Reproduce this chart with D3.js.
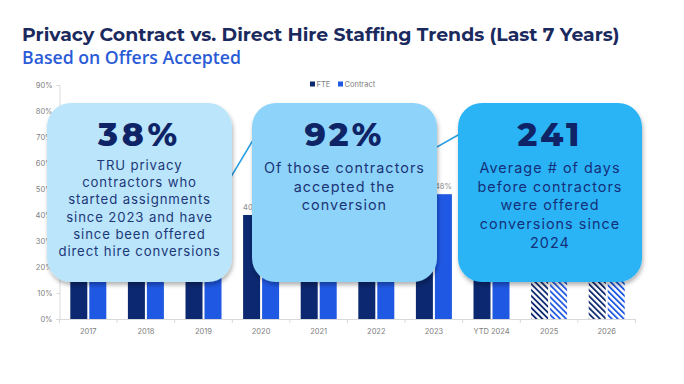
<!DOCTYPE html>
<html><head><meta charset="utf-8">
<script src="https://cdn.jsdelivr.net/npm/d3@7"></script>
<style>html,body{margin:0;padding:0;background:#fff}svg{display:block}</style>
</head><body>
<svg id="chart" width="684" height="384"></svg>
<script>
// ---------- DATA ----------
const categories = ["2017","2018","2019","2020","2021","2022","2023","YTD 2024","2025","2026"];
const seriesNames = ["FTE","Contract"];
const fteValues = [70,65,55,40,45,50,52,35,30,25];
const contractValues = [30,35,45,60,55,50,48,65,70,75];
const projectedCategories = ["2025","2026"];
const trendValues = [50,45,37,74,70,67,65.5,78,75,72];
const yTickValues = [0,10,20,30,40,50,60,70,80,90];
const titleText = "Privacy Contract vs. Direct Hire Staffing Trends (Last 7 Years)";
const subtitleText = "Based on Offers Accepted";
const calloutNumbers = ["38%","92%","241"];
const calloutLines = [
  ["TRU privacy","contractors who","started assignments","since 2023 and have","since been offered","direct hire conversions"],
  ["Of those contractors","accepted the","conversion"],
  ["Average # of days","before contractors","were offered","conversions since","2024"]
];

// ---------- LAYOUT / STYLE ----------
const svg = d3.select("#chart");
const FONT = "Inter, 'Open Sans', sans-serif";
const colors = {FTE:"#0c2870", Contract:"#1f58e3"};
const plot = {left:59.5, right:635.5, top:85, bottom:319};

const defs = svg.append("defs");
const f = defs.append("filter").attr("id","shadow").attr("x","-10%").attr("y","-10%").attr("width","125%").attr("height","130%");
f.append("feDropShadow").attr("dx",1).attr("dy",3).attr("stdDeviation",2).attr("flood-color","#000").attr("flood-opacity",0.3);
seriesNames.forEach(s=>{
  const p = defs.append("pattern").attr("id","hatch-"+s).attr("patternUnits","userSpaceOnUse")
    .attr("width",4.2).attr("height",4.2).attr("patternTransform","rotate(-45)");
  p.append("rect").attr("width",4.2).attr("height",4.2).attr("fill","#fff");
  p.append("rect").attr("width",1.8).attr("height",4.2).attr("fill",colors[s]);
});

function fit(sel, target){
  const w = sel.node().getComputedTextLength();
  const fs = parseFloat(sel.attr("font-size"));
  sel.attr("font-size", (fs*target/w).toFixed(2));
}
function spread(sel, target){
  const node = sel.node();
  const w = node.getComputedTextLength();
  const n = sel.text().length;
  if (w > target) { fit(sel, target); return 0; }
  const ls = (target - w) / n;
  sel.attr("letter-spacing", ls.toFixed(3));
  return ls;
}

// Title
const t = svg.append("text").attr("x",22).attr("y",40.5).attr("font-family","Montserrat, "+FONT)
  .attr("font-weight",700).attr("font-size",19).attr("fill","#1b2a5e").text(titleText);
spread(t, 598);
const st = svg.append("text").attr("x",22).attr("y",63.5).attr("font-family","'Open Sans', sans-serif")
  .attr("font-weight",600).attr("font-size",16).attr("fill","#2a5bd7").text(subtitleText);
fit(st, 219);

// Scales
const x = d3.scaleBand().domain(categories).range([plot.left, plot.right]);
const groupW = 36;
const x1 = d3.scaleBand().domain(seriesNames).range([0, groupW]).paddingInner(0.105);
const y = d3.scaleLinear().domain([0,90]).range([plot.bottom, plot.top]);

// Axes
const yAxis = svg.append("g").attr("transform",`translate(${plot.left},0)`)
  .call(d3.axisLeft(y).tickValues(yTickValues).tickSize(3).tickPadding(4).tickFormat(d=>d+"%"));
yAxis.select(".domain").attr("stroke","#d9d9d9");
yAxis.selectAll(".tick line").attr("stroke","#d9d9d9");
yAxis.selectAll("text").attr("font-family",FONT).attr("font-size",7.5).attr("fill","#808080");

const xAxis = svg.append("g").attr("transform",`translate(0,${plot.bottom})`)
  .call(d3.axisBottom(x).tickSize(0).tickPadding(10));
xAxis.select(".domain").attr("stroke","#d9d9d9");
xAxis.selectAll("text").attr("font-family",FONT).attr("font-size",7.5).attr("fill","#808080");
const boundaries = categories.map(c=>x(c)).concat([x(categories[categories.length-1])+x.bandwidth()]);
svg.append("g").selectAll("line").data(boundaries).join("line")
  .attr("x1",d=>d).attr("x2",d=>d).attr("y1",plot.bottom).attr("y2",plot.bottom+4).attr("stroke","#d9d9d9");

// Legend
const legend = svg.append("g");
const legendItems = [{s:"FTE",x:310},{s:"Contract",x:338}];
legendItems.forEach(li=>{
  legend.append("rect").attr("x",li.x).attr("y",81.5).attr("width",5).attr("height",5).attr("fill",colors[li.s]);
  legend.append("text").attr("x",li.x+6.5).attr("y",87).attr("font-family",FONT).attr("font-size",7.5)
    .attr("fill","#808080").text(li.s);
});

// Bars
const rows = categories.map((c,i)=>({c, vals:[{s:"FTE",v:fteValues[i]},{s:"Contract",v:contractValues[i]}]}));
const groups = svg.append("g").selectAll("g").data(rows).join("g")
  .attr("transform",d=>`translate(${x(d.c)+(x.bandwidth()-groupW)/2},0)`);
groups.selectAll("rect").data(d=>d.vals.map(v=>({...v,c:d.c}))).join("rect")
  .attr("x",d=>x1(d.s)).attr("width",x1.bandwidth())
  .attr("y",d=>y(d.v)).attr("height",d=>y(0)-y(d.v))
  .attr("fill",d=>projectedCategories.includes(d.c)?`url(#hatch-${d.s})`:colors[d.s]);
const barLabels = groups.selectAll("text").data(d=>d.vals).join("text")
  .attr("x",d=>x1(d.s)+x1.bandwidth()/2).attr("y",d=>y(d.v)-5)
  .attr("text-anchor","middle").attr("font-family",FONT).attr("font-size",7.5).attr("fill","#8a8a8a")
  .text(d=>d.v+"%");

// Trend line
svg.append("path").datum(trendValues)
  .attr("d", d3.line().x((d,i)=>x(categories[i])+x.bandwidth()/2).y(d=>y(d)))
  .attr("fill","none").attr("stroke","#2a9fe2").attr("stroke-width",1.6);

// Callout boxes
const boxes = [
  {x:47, w:185, fill:"#bae5fb", text:"#1c3878", body:[170,17.2], fs:13.2, ref:5, refW:162, numW:83},
  {x:252, w:185, fill:"#8ed4fa", text:"#1b3577", body:[173,18.5], fs:14.4, ref:0, refW:161, numW:80},
  {x:458, w:184, fill:"#29b4f6", text:"#15307a", body:[173,18.7], fs:14.4, ref:1, refW:145, numW:65}
];
const boxH = 179, boxTop = 103;

// Data labels fully hidden under a callout are not rendered (they are invisible in the reference)
barLabels.each(function(){
  const bb = this.getBBox();
  const m = this.parentNode.transform.baseVal.consolidate().matrix;
  const L = bb.x + m.e, R = L + bb.width, T = bb.y + m.f, B = T + bb.height;
  if (boxes.some(b => L >= b.x && R <= b.x + b.w && T >= boxTop && B <= boxTop + boxH)) d3.select(this).remove();
});

boxes.forEach((b,i)=>{
  const g = svg.append("g");
  g.append("rect").attr("x",b.x).attr("y",boxTop).attr("width",b.w).attr("height",boxH).attr("rx",24)
    .attr("fill",b.fill).attr("filter","url(#shadow)");
  const cx = b.x+b.w/2;
  const num = g.append("text").attr("x",cx).attr("y",146).attr("text-anchor","middle")
    .attr("font-family","Montserrat, "+FONT).attr("font-weight",800).attr("font-size",33)
    .attr("fill","#0f2466").text(calloutNumbers[i]);
  spread(num, b.numW);
  const lines = g.selectAll("text.body").data(calloutLines[i]).join("text").attr("class","body")
    .attr("x",cx).attr("y",(d,j)=>b.body[0]+j*b.body[1]).attr("text-anchor","middle")
    .attr("font-family",FONT).attr("font-size",b.fs).attr("fill",b.text).text(d=>d);
  const refSel = d3.select(lines.nodes()[b.ref]);
  const ls = spread(refSel, b.refW);
  lines.attr("font-size", refSel.attr("font-size")).attr("letter-spacing", ls.toFixed(3));
});
</script>
</body></html>
